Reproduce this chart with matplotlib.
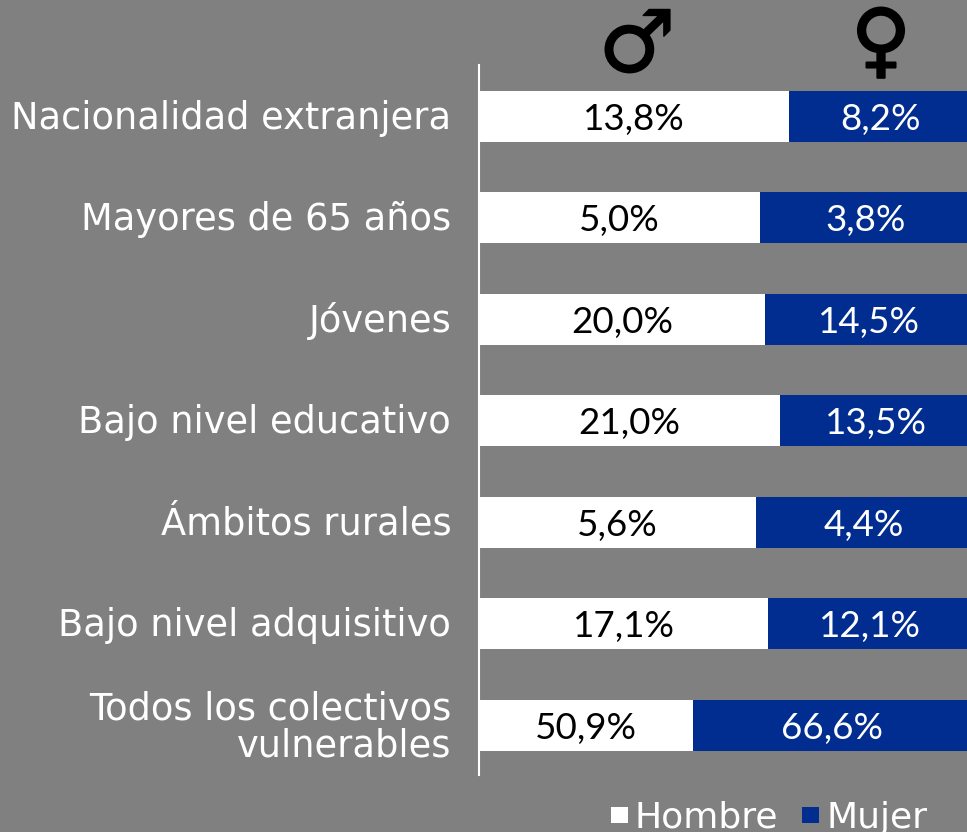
import numpy as np
import matplotlib
matplotlib.use("Agg")
import matplotlib.pyplot as plt
import matplotlib.patheffects as pe
from matplotlib.patches import Rectangle
from matplotlib.transforms import ScaledTranslation

categorias = ["Nacionalidad extranjera", "Mayores de 65 años", "Jóvenes",
              "Bajo nivel educativo", "Ámbitos rurales", "Bajo nivel adquisitivo",
              "Todos los colectivos\nvulnerables"]
hombre = [13.8, 5.0, 20.0, 21.0, 5.6, 17.1, 50.9]
mujer = [8.2, 3.8, 14.5, 13.5, 4.4, 12.1, 66.6]

GRIS = "#808080"
AZUL = "#002d8f"
W, H = 967, 832

plt.rcParams["font.family"] = ["DejaVu Sans"]

fig = plt.figure(figsize=(W / 100, H / 100), dpi=100, facecolor=GRIS)
ax = fig.add_axes([479 / W, 1 - 775 / H, 488 / W, (775 - 65) / H], facecolor=GRIS)

hombre_arr = np.array(hombre)
mujer_arr = np.array(mujer)
total = hombre_arr + mujer_arr
h_frac = hombre_arr / total
m_frac = mujer_arr / total
y = np.arange(len(categorias))

ax.barh(y, h_frac, height=0.502, color="white")
ax.barh(y, m_frac, left=h_frac, height=0.502, color=AZUL)

for i in y:
    ax.text(h_frac[i] / 2, i, f"{hombre[i]:.1f}%".replace(".", ","), ha="center",
            va="center_baseline", fontsize=26.5, color="black", family="Lato")
    ax.text(h_frac[i] + (0.988 - h_frac[i]) / 2 + 0.005, i, f"{mujer[i]:.1f}%".replace(".", ","),
            ha="center", va="center_baseline", fontsize=26.5, color="white", family="Lato")

ax.set_xlim(0, 0.988)
ax.set_ylim(6.488, -0.507)
ax.set_yticks(y)
ax.set_yticklabels(categorias, fontsize=26.5, color="white", linespacing=1.0)
ax.tick_params(axis="y", length=0, pad=20)
ax.set_xticks([])
subir = ScaledTranslation(0, 2 / 100, fig.dpi_scale_trans)
for lbl in ax.get_yticklabels():
    lbl.set_transform(lbl.get_transform() + subir)
for lado in ["top", "right", "bottom"]:
    ax.spines[lado].set_visible(False)
ax.spines["left"].set_color("white")
ax.spines["left"].set_linewidth(1.5)

# simbolos de arriba y leyenda
fig.text(637 / W, 1 - 48 / H, "\u2642", fontsize=62, fontweight="bold",
         ha="center", va="center", color="black",
         path_effects=[pe.withStroke(linewidth=1, foreground="black")])
fig.text(881 / W, 1 - 45 / H, "\u2640", fontsize=59, fontweight="bold",
         ha="center", va="center", color="black",
         path_effects=[pe.withStroke(linewidth=1.5, foreground="black")])

fig.patches.append(Rectangle((611 / W, 1 - 823 / H), 17 / W, 16 / H, transform=fig.transFigure,
                             facecolor="white", edgecolor="none"))
fig.patches.append(Rectangle((802 / W, 1 - 823 / H), 17 / W, 16 / H, transform=fig.transFigure,
                             facecolor=AZUL, edgecolor="none"))
fig.text(635 / W, 1 - 828 / H, "Hombre", fontsize=26, color="white", va="baseline")
fig.text(826 / W, 1 - 828 / H, "Mujer", fontsize=26, color="white", va="baseline")

fig.savefig("out.png", dpi=100, facecolor=GRIS)
